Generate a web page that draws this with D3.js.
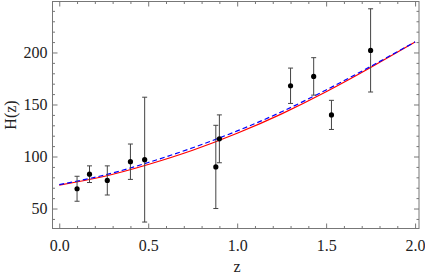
<!DOCTYPE html>
<html>
<head>
<meta charset="utf-8">
<script src="https://cdn.jsdelivr.net/npm/d3@7"></script>
<style>
  body { margin: 0; background: #fff; }
  svg { display: block; }
</style>
</head>
<body>
<div id="chart"></div>
<script>
// H(z) measurements
const zObs = [0.1, 0.17, 0.27, 0.4, 0.48, 0.88, 0.9, 1.3, 1.43, 1.53, 1.75];
const hObs = [69, 83, 77, 95, 97, 90, 117, 168, 177, 140, 202];
const hErr = [12, 8, 14, 17, 60, 40, 23, 17, 18, 14, 40];

// model curves
const zModel = [0, 0.25, 0.5, 0.75, 1.0, 1.25, 1.5, 1.75, 2.0];
const hRed = [72.5, 80.8, 92.3, 106.0, 122.3, 141.0, 162.2, 185.5, 210];
const hBlue = [73, 82, 94.2, 108.4, 124.6, 143, 164, 186.6, 210.2];

const xMajor = [0, 0.5, 1.0, 1.5, 2.0];
const yMajor = [50, 100, 150, 200];

const serif = "Liberation Serif";
const fontSize = 16;
const frameColor = "#777";

const width = 425, height = 276;
const margin = {top: 1.5, right: 6, bottom: 47.5, left: 52.5};

const svg = d3.select("#chart").append("svg")
    .attr("width", width)
    .attr("height", height);

const x = d3.scaleLinear().domain([-0.038, 2.022]).range([margin.left, width - margin.right]);
const y = d3.scaleLinear().domain([30.8, 249]).range([height - margin.bottom, margin.top]);

const xMinor = d3.range(0, 2.01, 0.1).map(d => +d.toFixed(1)).filter(d => !xMajor.includes(d));
const yMinor = d3.range(40, 249, 10).filter(d => !yMajor.includes(d));

const fmt = d3.format(".1f");

// frame
svg.append("rect")
    .attr("x", x.range()[0]).attr("y", y.range()[1])
    .attr("width", x.range()[1] - x.range()[0])
    .attr("height", y.range()[0] - y.range()[1])
    .attr("fill", "none").attr("stroke", frameColor).attr("stroke-width", 1);

function addAxis(axis, tx, ty, labels) {
    const g = svg.append("g")
        .attr("transform", `translate(${tx},${ty})`)
        .call(axis)
        .attr("font-family", serif)
        .attr("font-size", fontSize);
    g.select(".domain").remove();
    g.selectAll("line").attr("stroke", frameColor);
    if (!labels) g.selectAll("text").remove();
    g.selectAll("text").attr("fill", "#222");
    return g;
}

// bottom and top
addAxis(d3.axisBottom(x).tickValues(xMajor).tickSizeInner(-5).tickSizeOuter(0).tickPadding(11).tickFormat(fmt), 0, y.range()[0], true);
addAxis(d3.axisBottom(x).tickValues(xMinor).tickSizeInner(-2.5).tickSizeOuter(0), 0, y.range()[0], false);
addAxis(d3.axisTop(x).tickValues(xMajor).tickSizeInner(-5).tickSizeOuter(0), 0, y.range()[1], false);
addAxis(d3.axisTop(x).tickValues(xMinor).tickSizeInner(-2.5).tickSizeOuter(0), 0, y.range()[1], false);

// left and right
addAxis(d3.axisLeft(y).tickValues(yMajor).tickSizeInner(-5).tickSizeOuter(0).tickPadding(5), x.range()[0], 0, true);
addAxis(d3.axisLeft(y).tickValues(yMinor).tickSizeInner(-2.5).tickSizeOuter(0), x.range()[0], 0, false);
addAxis(d3.axisRight(y).tickValues(yMajor).tickSizeInner(-5).tickSizeOuter(0), x.range()[1], 0, false);
addAxis(d3.axisRight(y).tickValues(yMinor).tickSizeInner(-2.5).tickSizeOuter(0), x.range()[1], 0, false);

// curves
const line = d3.line()
    .x(d => x(d[0]))
    .y(d => y(d[1]))
    .curve(d3.curveNatural);

svg.append("path")
    .datum(zModel.map((z, i) => [z, hRed[i]]))
    .attr("d", line)
    .attr("fill", "none").attr("stroke", "#ff0000").attr("stroke-width", 1.2);

svg.append("path")
    .datum(zModel.map((z, i) => [z, hBlue[i]]))
    .attr("d", line)
    .attr("fill", "none").attr("stroke", "#0000ff").attr("stroke-width", 1.2)
    .attr("stroke-dasharray", "5,3");

// error bars
const obs = zObs.map((z, i) => ({z: z, h: hObs[i], e: hErr[i]}));
const bars = svg.append("g").selectAll("g").data(obs).join("g")
    .attr("stroke", "#444").attr("stroke-width", 1);

bars.append("line")
    .attr("x1", d => x(d.z)).attr("x2", d => x(d.z))
    .attr("y1", d => y(d.h - d.e)).attr("y2", d => y(d.h + d.e));
bars.append("line")
    .attr("x1", d => x(d.z) - 2.5).attr("x2", d => x(d.z) + 2.5)
    .attr("y1", d => y(d.h - d.e)).attr("y2", d => y(d.h - d.e));
bars.append("line")
    .attr("x1", d => x(d.z) - 2.5).attr("x2", d => x(d.z) + 2.5)
    .attr("y1", d => y(d.h + d.e)).attr("y2", d => y(d.h + d.e));

svg.append("g").selectAll("circle").data(obs).join("circle")
    .attr("cx", d => x(d.z)).attr("cy", d => y(d.h))
    .attr("r", 2.6).attr("fill", "#000");

// axis labels
svg.append("text")
    .attr("x", x(1.0)).attr("y", 272)
    .attr("text-anchor", "middle")
    .attr("font-family", serif).attr("font-size", fontSize).attr("fill", "#222")
    .text("z");

svg.append("text")
    .attr("transform", `translate(16,${(y.range()[0] + y.range()[1]) / 2}) rotate(-90)`)
    .attr("text-anchor", "middle")
    .attr("font-family", serif).attr("font-size", fontSize).attr("fill", "#222")
    .text("H(z)");
</script>
</body>
</html>
